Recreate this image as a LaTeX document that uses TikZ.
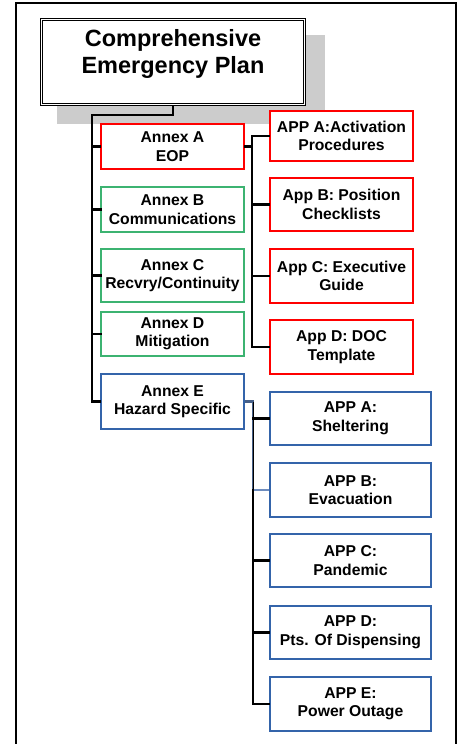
\documentclass[tikz,border=0pt]{standalone}
\usepackage{fontspec}
\setmainfont{Liberation Sans}
\begin{document}
\begin{tikzpicture}[x=1pt,y=-1pt,
  box/.style={draw,fill=white,inner sep=0pt,align=center,font=\fontsize{15.7}{18.5}\selectfont\bfseries},
  redbox/.style={box,draw={rgb,255:red,255;green,0;blue,0},line width=2pt,minimum width=143pt},
  greenbox/.style={box,draw={rgb,255:red,60;green,179;blue,113},line width=1.1pt,minimum width=143pt},
  bluebox/.style={box,draw={rgb,255:red,52;green,100;blue,170},line width=2pt,minimum width=143pt},
  bluebox2/.style={bluebox,minimum width=161pt},
  conn/.style={draw,line width=2.4pt,line cap=rect},
  thinconn/.style={draw,line width=1.2pt,color={rgb,255:red,110;green,140;blue,190}}]
\useasboundingbox (0,0) rectangle (461,744);
% outer frame
\draw[line width=2pt] (16,746) -- (16,3) -- (456,3) -- (456,746);
% title shadow and box
\fill[black!20] (57,35) rectangle (325,124);
\node[draw,line width=0.8pt,fill=white,minimum width=265pt,minimum height=87pt,inner sep=0pt] (title) at (173,62) {};
\draw[line width=0.8pt] ([shift={(2.6,2.6)}]title.north west) rectangle ([shift={(-2.6,-2.6)}]title.south east);
\node[align=center,font=\fontsize{23.5}{27}\selectfont\bfseries,inner sep=0pt] (titletext) at (173,54) {Comprehensive\\Emergency Plan};
% annexes
\node[redbox,minimum height=45pt] (annexA) at (172.5,146.5) {Annex A\\EOP};
\node[greenbox,minimum height=45pt] (annexB) at (172.5,209.5) {Annex B\\Communications};
\node[greenbox,minimum height=53pt] (annexC) at (172.5,275.5) {Annex C\\Recvry/Continuity};
\node[greenbox,minimum height=44pt] (annexD) at (172.5,334) {Annex D\\Mitigation};
\node[bluebox,minimum height=55pt] (annexE) at (172.5,401.5) {Annex E\\Hazard Specific};
% red apps
\node[redbox,minimum height=50pt] (rA) at (341.5,136) {APP A:Activation\\Procedures};
\node[redbox,minimum height=53pt] (rB) at (341.5,204.5) {App B: Position\\Checklists};
\node[redbox,minimum height=54pt] (rC) at (341.5,276) {App C: Executive\\Guide};
\node[redbox,minimum height=54pt] (rD) at (341.5,347) {App D: DOC\\Template};
% blue apps
\node[bluebox2,minimum height=53pt] (bA) at (350.5,418.5) {APP A:\\Sheltering};
\node[bluebox2,minimum height=54pt] (bB) at (350.5,490) {APP B:\\Evacuation};
\node[bluebox2,minimum height=53pt] (bC) at (350.5,560.5) {APP C:\\Pandemic};
\node[bluebox2,minimum height=53pt] (bD) at (350.5,632.5) {APP D:\\Pts. Of Dispensing};
\node[bluebox2,minimum height=54pt] (bE) at (350.5,704) {APP E:\\Power Outage};
% bus coordinates
\coordinate (t1) at (173,115);
\coordinate (t2) at (92,115);
\coordinate (r1) at (252,146.5);
\coordinate (b1) at (253,401.5);
\coordinate (b2) at (253,490);
% left bus
\draw[conn] (title.south) -- (t1) -- (t2) |- (annexE.west);
\draw[conn] (t2 |- annexA.west) -- (annexA.west);
\draw[conn] (t2 |- annexB.west) -- (annexB.west);
\draw[conn] (t2 |- annexC.west) -- (annexC.west);
\draw[conn] (t2 |- annexD.west) -- (annexD.west);
% red bus
\draw[conn] (annexA.east) -- (r1);
\draw[conn] (rA.west) -| (r1 |- rD.west) -- (rD.west);
\draw[conn] (r1 |- rB.west) -- (rB.west);
\draw[conn] (r1 |- rC.west) -- (rC.west);
% blue bus
\draw[line width=2.6pt,color={rgb,255:red,70;green,95;blue,135}] (annexE.east) -- (b1) -- (b2);
\draw[line width=0.8pt,color=black] (b1) -- (b2);
\draw[thinconn] (b2) -- (bB.west);
\draw[conn] (b2) |- (bE.west);
\draw[conn] (b1 |- bA.west) -- (bA.west);
\draw[conn] (b1 |- bC.west) -- (bC.west);
\draw[conn] (b1 |- bD.west) -- (bD.west);
\end{tikzpicture}
\end{document}
